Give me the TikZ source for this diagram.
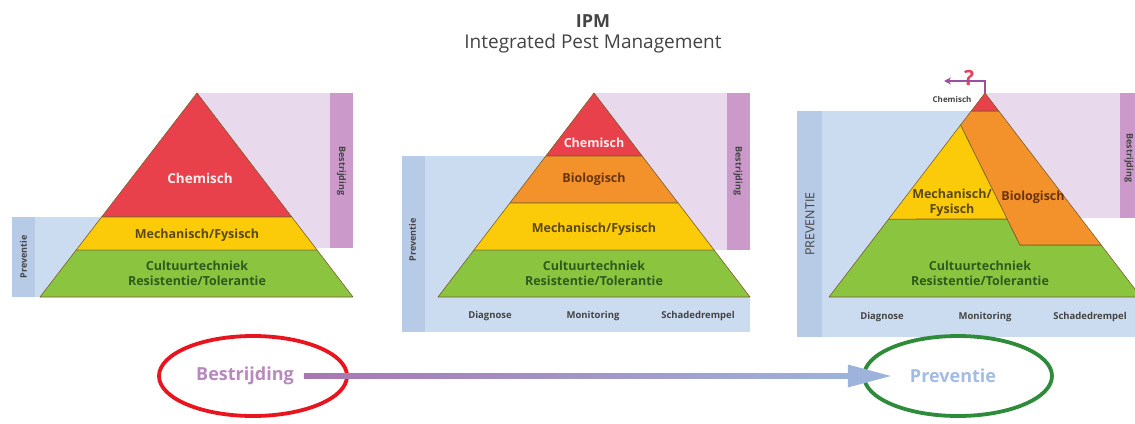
\documentclass[tikz,border=0pt]{standalone}
\usepackage{fontspec}
\setmainfont{Open Sans}
\usetikzlibrary{calc,arrows.meta,shapes.geometric}
\definecolor{pred}{HTML}{E8414B}
\definecolor{pyel}{HTML}{FBCB0A}
\definecolor{pgrn}{HTML}{8BC540}
\definecolor{pora}{HTML}{F3922A}
\definecolor{lblue}{HTML}{CCDCF0}
\definecolor{dblue}{HTML}{B7CAE6}
\definecolor{lpurp}{HTML}{E9D9EC}
\definecolor{dpurp}{HTML}{CB9ACB}
\definecolor{edge}{HTML}{7A5E2A}
\definecolor{tmech}{HTML}{5B4812}
\definecolor{tgrn}{HTML}{2E5A1E}
\definecolor{tbio}{HTML}{6B3410}
\definecolor{tchem}{HTML}{FDEDEF}
\definecolor{tgrey}{HTML}{444444}
\definecolor{ered}{HTML}{E8141E}
\definecolor{egrn}{HTML}{2E8B3A}
\definecolor{apurp}{HTML}{A777B0}
\definecolor{ablue}{HTML}{9DB3DC}
\definecolor{qpurp}{HTML}{9B4F9E}
\definecolor{qred}{HTML}{E8405A}
\definecolor{tbest}{HTML}{B889BE}
\definecolor{tprev}{HTML}{A3BCE4}
\tikzset{
  band/.style={draw=edge, line width=0.6pt, line join=round},
  lbl/.style={font=\bfseries\fontsize{12.5}{15}\selectfont, align=center, inner sep=0pt},
  small/.style={font=\bfseries\fontsize{9.5}{11}\selectfont, text=tgrey, inner sep=0pt},
  vlbl/.style={font=\bfseries\fontsize{9}{11}\selectfont, text=tgrey, inner sep=0pt},
  oval/.style={ellipse, draw, line width=3.8pt, inner sep=0pt}
}
\begin{document}
\begin{tikzpicture}[x=1pt,y=-1pt]
\clip (0,0) rectangle (1135,423);
\fill[white] (0,0) rectangle (1135,423);

% title
\node[font=\bfseries\fontsize{18}{20}\selectfont, text=tgrey] (ipm) at (593,21) {IPM};
\node[font=\fontsize{19}{22}\selectfont, text=tgrey] (ipmsub) at (593,44) {Integrated Pest Management};

% ---------- panel 1 ----------
\coordinate (A1) at (197,93); \coordinate (L1) at (40,297); \coordinate (R1) at (353,297);
\fill[lpurp] (197,93) rectangle (330,248);
\fill[dpurp] (330,93) rectangle (353,248);
\fill[lblue] (12,217) rectangle (150,297);
\fill[dblue] (12,217) rectangle (35,297);
\filldraw[band, fill=pred] (A1) -- ($(A1)!0.608!(R1)$) -- ($(A1)!0.608!(L1)$) -- cycle;
\filldraw[band, fill=pyel] ($(A1)!0.608!(L1)$) -- ($(A1)!0.608!(R1)$) -- ($(A1)!0.770!(R1)$) -- ($(A1)!0.770!(L1)$) -- cycle;
\filldraw[band, fill=pgrn] ($(A1)!0.770!(L1)$) -- ($(A1)!0.770!(R1)$) -- (R1) -- (L1) -- cycle;
\node[lbl, text=tchem, font=\bfseries\fontsize{13.5}{15}\selectfont] (c1) at (200,178) {Chemisch};
\node[lbl, text=tmech] (m1) at (197,235) {Mechanisch/Fysisch};
\node[lbl, text=tgrn] (g1) at (197,273) {Cultuurtechniek\\Resistentie/Tolerantie};
\node[vlbl, rotate=90] (p1) at (23.5,257) {Preventie};
\node[vlbl, rotate=-90] (b1) at (341.5,171) {Bestrijding};

% ---------- panel 2 ----------
\coordinate (A2) at (594,93); \coordinate (L2) at (438,297); \coordinate (R2) at (750,297);
\fill[lpurp] (594,93) rectangle (727,250);
\fill[dpurp] (727,93) rectangle (750,250);
\fill[lblue] (402,156) rectangle (594,332);
\fill[lblue] (402,297) rectangle (750,332);
\fill[dblue] (402,156) rectangle (425,332);
\filldraw[band, fill=pred] (A2) -- ($(A2)!0.309!(R2)$) -- ($(A2)!0.309!(L2)$) -- cycle;
\filldraw[band, fill=pora] ($(A2)!0.309!(L2)$) -- ($(A2)!0.309!(R2)$) -- ($(A2)!0.539!(R2)$) -- ($(A2)!0.539!(L2)$) -- cycle;
\filldraw[band, fill=pyel] ($(A2)!0.539!(L2)$) -- ($(A2)!0.539!(R2)$) -- ($(A2)!0.770!(R2)$) -- ($(A2)!0.770!(L2)$) -- cycle;
\filldraw[band, fill=pgrn] ($(A2)!0.770!(L2)$) -- ($(A2)!0.770!(R2)$) -- (R2) -- (L2) -- cycle;
\node[lbl, text=tchem] (c2) at (594,143) {Chemisch};
\node[lbl, text=tbio] (o2) at (594,179) {Biologisch};
\node[lbl, text=tmech] (m2) at (594,229) {Mechanisch/Fysisch};
\node[lbl, text=tgrn] (g2) at (594,273) {Cultuurtechniek\\Resistentie/Tolerantie};
\node[small] (d2) at (490,316) {Diagnose};
\node[small] (mo2) at (593,316) {Monitoring};
\node[small] (s2) at (698,316) {Schadedrempel};
\node[vlbl, rotate=90] (p2) at (412.5,240) {Preventie};
\node[vlbl, rotate=-90] (b2) at (738,171) {Bestrijding};

% ---------- panel 3 ----------
\coordinate (A3) at (985,93); \coordinate (L3) at (829,297); \coordinate (R3) at (1141,297);
\fill[lpurp] (985,93) rectangle (1120,218);
\fill[dpurp] (1120,93) rectangle (1145,218);
\fill[lblue] (797,111) rectangle (985,337);
\fill[lblue] (797,297) rectangle (1145,337);
\fill[dblue] (797,111) rectangle (822,337);
\coordinate (Y3) at ($(A3)!0.157!(L3)$);
\coordinate (D3) at (1020,245);
\coordinate (E3) at ($(Y3)!0.783!(D3)$);
\filldraw[band, fill=pgrn] ($(A3)!0.618!(L3)$) -- (E3) -- (D3) -- ($(A3)!0.745!(R3)$) -- (R3) -- (L3) -- cycle;
\filldraw[band, fill=pora] ($(A3)!0.088!(L3)$) -- ($(A3)!0.088!(R3)$) -- ($(A3)!0.745!(R3)$) -- (D3) -- (Y3) -- cycle;
\filldraw[band, fill=pyel] (Y3) -- (E3) -- ($(A3)!0.618!(L3)$) -- cycle;
\filldraw[band, fill=pred] (A3) -- ($(A3)!0.088!(R3)$) -- ($(A3)!0.088!(L3)$) -- cycle;
\node[lbl, text=tmech] (m3) at (952,203) {Mechanisch/\\Fysisch};
\node[lbl, text=tbio] (o3) at (1033,197) {Biologisch};
\node[lbl, text=tgrn] (g3) at (980,273) {Cultuurtechniek\\Resistentie/Tolerantie};
\node[small, font=\bfseries\fontsize{8}{10}\selectfont] (c3) at (952,99.5) {Chemisch};
\node[small] (d3) at (882,317) {Diagnose};
\node[small] (mo3) at (985,317) {Monitoring};
\node[small] (s3) at (1090,317) {Schadedrempel};
\node[font=\fontsize{12.5}{14}\selectfont, text=tgrey, rotate=90, inner sep=0pt] (p3) at (810,224) {PREVENTIE};
\node[vlbl, rotate=-90] (b3) at (1129,158) {Bestrijding};
\draw[qpurp, line width=2pt, -{Stealth[length=7pt,width=7pt]}] (A3) -- ++(0,-12) -- ++(-41,0) coordinate (q3end);
\node[font=\bfseries\fontsize{21}{22}\selectfont, text=qred, inner sep=0pt] (q3) at (969,78) {?};

% ---------- bottom ----------
\node[oval, draw=ered, minimum width=188pt, minimum height=80pt] (ovr) at (253,376) {};
\node[font=\bfseries\fontsize{18}{20}\selectfont, text=tbest, inner sep=0pt] (best) at (245,376) {Bestrijding};
\node[oval, draw=egrn, minimum width=188pt, minimum height=80pt] (ovg) at (958,376) {};
\node[font=\bfseries\fontsize{18}{20}\selectfont, text=tprev, inner sep=0pt] (prev) at (953,376) {Preventie};
\coordinate (arrS) at ($(best.east)+(10,0)$);
\coordinate (arrT) at ($(prev.west)+(-19,0)$);
\shade[left color=apurp, right color=ablue] ($(arrS)+(0,-2.7)$) rectangle ($(arrT)+(-40,2.7)$);
\fill[ablue] ($(arrT)+(-43,-11.5)$) -- (arrT) -- ($(arrT)+(-43,11.5)$) -- cycle;
\end{tikzpicture}
\end{document}
